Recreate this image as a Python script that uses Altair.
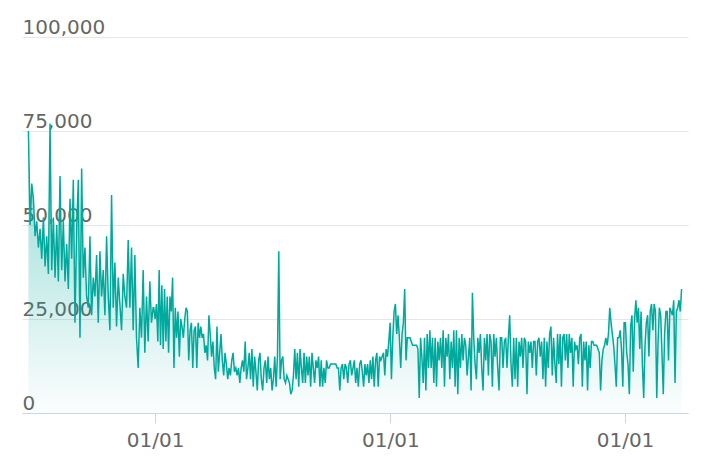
import altair as alt
import pandas as pd

# values in thousands, per stretch of dates
seg1_start, seg1_end = "2019-06-18", "2019-12-29"
seg1 = [75, 50, 61, 57, 47, 51, 44, 49, 41, 52, 39, 47, 37, 77, 38, 52, 36, 50, 35, 63,
        38, 51, 35, 45, 33, 57, 41, 62, 24, 49, 62, 20, 65, 36, 44, 31, 28, 47, 26, 36,
        31, 42, 24, 43, 31, 38, 26, 47, 31, 22, 58, 28, 40, 23, 36, 29, 22, 37, 31, 28,
        46, 28, 44, 22, 42, 20, 12, 28, 20, 38, 16, 31, 19, 35, 24, 28]

seg2_start, seg2_end = "2019-12-30", "2020-07-24"
seg2 = [28, 25, 29, 19, 38, 18, 34, 17, 33, 19, 31, 16, 31, 27, 36, 12, 28, 20, 27, 15,
        25, 23, 20, 25, 28, 27, 14, 22, 24, 12, 22, 23, 12, 24, 20, 23, 20, 21, 16, 18,
        14, 26, 21, 15, 19, 12, 9, 23, 11, 16, 21, 14, 10, 16, 13, 9, 12, 10, 14, 16,
        11, 12, 10, 12, 8, 12, 14, 11, 19, 9, 12, 16, 9, 17, 7, 15, 11, 6, 14, 16,
        9, 6, 12, 14, 8, 15, 9, 12, 6, 9, 15, 7, 15, 43, 9, 14, 15, 9, 8, 10]

seg3_start, seg3_end = "2020-07-26", "2021-02-17"
seg3 = [9, 8, 5, 6, 10, 17, 9, 16, 7, 17, 12, 8, 16, 8, 15, 10, 15, 7, 16, 12,
        8, 14, 12, 15, 7, 14, 7, 12, 8, 14, 12, 12, 13, 13, 13, 13, 13, 12, 12, 6,
        12, 13, 9, 13, 12, 8, 13, 14, 10, 12, 14, 8, 12, 7, 13, 14, 11, 7, 13, 10,
        13, 8, 14, 9, 15, 7, 14, 16, 7, 15, 14, 15, 16, 10, 17, 15, 19, 24, 9, 20,
        27, 29, 21, 26, 20, 12, 21, 24, 33, 14, 20, 20, 20, 19, 18, 18, 18, 18, 17, 4, 20]

seg4_start, seg4_end = "2021-02-19", "2021-09-14"
seg4 = [15, 8, 20, 6, 21, 12, 22, 12, 20, 8, 20, 7, 19, 14, 20, 12, 22, 7, 20, 15,
        21, 9, 19, 12, 22, 7, 22, 5, 20, 12, 21, 14, 20, 18, 10, 15, 20, 6, 32, 20,
        13, 9, 20, 16, 21, 12, 6, 20, 14, 21, 10, 21, 19, 7, 21, 15, 20, 12, 6, 20,
        20, 12, 19, 20, 12, 20, 26, 13, 7, 20, 9, 20, 7, 19, 15, 20, 12, 20, 19, 5,
        19, 16, 19, 12, 19, 19, 10, 19, 20, 15, 19, 9, 20, 7, 19, 12, 21, 23, 10, 20, 13]

seg5_start, seg5_end = "2021-09-16", "2022-03-30"
seg5 = [8, 21, 13, 21, 7, 20, 21, 14, 21, 12, 21, 16, 20, 7, 19, 17, 18, 13, 20, 21,
        7, 19, 14, 19, 6, 18, 12, 19, 19, 18, 18, 18, 17, 16, 6, 14, 17, 18, 20, 18,
        21, 28, 24, 21, 18, 13, 7, 20, 20, 22, 17, 7, 24, 24, 16, 13, 5, 23, 26, 11,
        25, 30, 24, 28, 17, 27, 13, 4, 18, 24, 26, 15, 27, 29, 22, 29, 27, 4, 19, 28,
        26, 16, 5, 21, 27, 27, 14, 28, 27, 26, 30, 8, 27, 28, 30, 27, 33]

segments = [(seg1_start, seg1_end, seg1), (seg2_start, seg2_end, seg2),
            (seg3_start, seg3_end, seg3), (seg4_start, seg4_end, seg4),
            (seg5_start, seg5_end, seg5)]

x_domain = ["2019-06-08", "2022-04-09"]
y_ticks = [0, 25000, 50000, 75000, 100000]
x_ticks = [alt.DateTime(year=2020, month=1, date=1),
           alt.DateTime(year=2021, month=1, date=1),
           alt.DateTime(year=2022, month=1, date=1)]

frames = []
for s, e, vals in segments:
    d = pd.date_range(s, e, periods=len(vals))
    frames.append(pd.DataFrame({"date": d, "value": [v * 1000 for v in vals]}))
df = pd.concat(frames, ignore_index=True)

teal = "#01a99d"
chart = alt.Chart(df).mark_area(
    line={"color": teal, "strokeWidth": 1.5},
    color=alt.Gradient(
        gradient="linear",
        stops=[alt.GradientStop(color="rgba(1,169,157,0.65)", offset=0),
               alt.GradientStop(color="rgba(1,169,157,0.02)", offset=1)],
        x1=0, x2=0, y1=0, y2=1,
    ),
).encode(
    x=alt.X("date:T",
            scale=alt.Scale(domain=x_domain, nice=False),
            axis=alt.Axis(values=x_ticks, format="%m/%d", title=None, grid=False,
                          domainColor="#ccd6eb", tickColor="#ccd6eb", tickSize=10,
                          labelFontSize=20, labelColor="#666666", labelPadding=7,
                          labelFont="DejaVu Sans", labelFlush=False)),
    y=alt.Y("value:Q",
            scale=alt.Scale(domain=[0, 100000], nice=False),
            axis=alt.Axis(values=y_ticks, format=",.0f", title=None, domain=False,
                          ticks=False, tickSize=0, labelAlign="left",
                          labelBaseline="bottom", labelPadding=0,
                          labelFontSize=20, labelColor="#666666",
                          labelFont="DejaVu Sans", labelOverlap=False,
                          gridColor="#e6e6e6", gridWidth=1)),
).properties(
    width=666, height=376,
    autosize=alt.AutoSizeParams(type="none"),
    padding={"left": 14, "top": 29, "right": 6, "bottom": 50},
).configure_view(strokeWidth=0)

chart.save("out.html", embed_options={"renderer": "svg", "actions": False})
